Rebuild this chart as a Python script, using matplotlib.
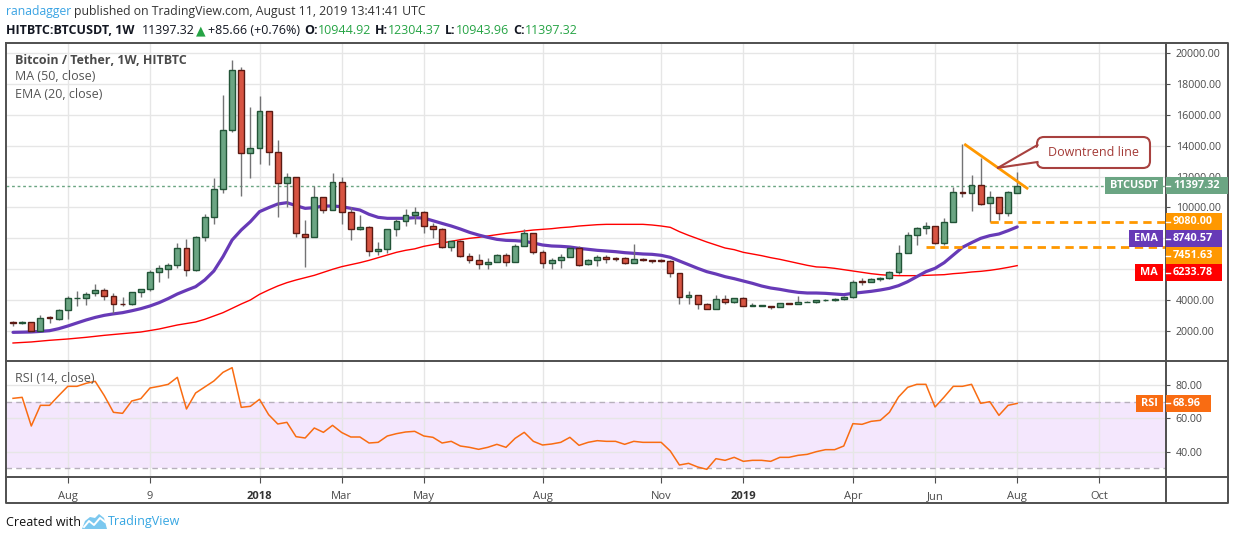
import matplotlib
matplotlib.use('Agg')
import matplotlib.pyplot as plt
from matplotlib.patches import Rectangle, FancyBboxPatch, Polygon
from matplotlib.lines import Line2D
from matplotlib.transforms import Affine2D
import numpy as np

W, H = 1234, 540
FONT = ['Open Sans', 'DejaVu Sans']

# ---------------- data (weekly BTC/USDT, first bar = week of 2017-06-26) ----------------
opens = [2560, 2530, 2560, 2020, 2860, 2760, 3330, 4110, 4130, 4440,
         4630, 4290, 3760, 3720, 4500, 4700, 5800, 6040, 6250, 7390,
         5930, 8110, 9360, 11170, 14990, 18870, 13510, 13830, 16220, 13570,
         11560, 11950, 8260, 8110, 10650, 9810, 11670, 9680, 8580, 8710,
         7160, 7290, 8580, 9120, 9490, 9680, 8780, 8580, 7460, 7800,
         6870, 6570, 6310, 6480, 6890, 6440, 7480, 8320, 7090, 6380,
         6570, 6760, 7350, 6310, 6570, 6760, 6720, 6700, 6380, 6660,
         6590, 6590, 6510, 5730, 4170, 4300, 3720, 3400, 4070, 3860,
         4110, 3620, 3620, 3620, 3530, 3800, 3740, 3860, 3880, 3980,
         4010, 4050, 4180, 5230, 5195, 5346, 5410, 5842, 7030, 8195,
         8648, 8800, 7680, 9040, 11000, 10920, 11430, 10260, 10650, 9620,
         10944.92]
closes = [2530, 2560, 2020, 2820, 2840, 3360, 4120, 4130, 4370, 4630,
          4290, 3730, 3720, 4500, 4700, 5800, 6060, 6250, 7390, 5930,
          8110, 9360, 11170, 14990, 18870, 13510, 13830, 16220, 13570, 11560,
          11950, 8330, 8110, 10650, 9810, 11670, 9680, 8580, 8710, 7160,
          7290, 8580, 9120, 9490, 9680, 8780, 8580, 7460, 7800, 6870,
          6570, 6310, 6480, 6890, 6440, 7480, 8320, 7090, 6380, 6570,
          6760, 7350, 6270, 6570, 6760, 6680, 6660, 6380, 6640, 6570,
          6530, 6510, 5730, 4170, 4300, 3720, 3400, 4070, 3860, 4110,
          3620, 3650, 3650, 3530, 3790, 3760, 3880, 3900, 3990, 4010,
          4050, 4220, 5190, 5190, 5346, 5454, 5842, 7030, 8195, 8648,
          8800, 7680, 9040, 10980, 10920, 11430, 10220, 10650, 9620, 10980,
          11397.32]
highs = [2650, 2680, 2580, 3010, 2970, 3450, 4270, 4600, 4550, 5020,
         4760, 4440, 4180, 4510, 4700, 5950, 6270, 6420, 7670, 7930,
         8130, 9580, 11930, 17280, 19550, 19070, 16480, 17220, 16260, 14360,
         12210, 11950, 9190, 11390, 10690, 12210, 11950, 10050, 9510, 8800,
         7770, 8580, 9230, 9880, 10050, 9770, 8970, 8650, 7800, 7890,
         7050, 6980, 6700, 6960, 7030, 7630, 8580, 8320, 7240, 6700,
         6980, 7460, 7480, 6640, 6900, 6920, 6810, 6770, 7610, 6720,
         6590, 6640, 6590, 5730, 4580, 4300, 3810, 4300, 4300, 4110,
         4220, 3790, 3690, 3620, 3790, 3830, 4280, 3940, 4030, 4100,
         4110, 4290, 5290, 5460, 5460, 5500, 5910, 7540, 8380, 8750,
         9070, 8800, 9300, 11300, 14110, 12090, 13220, 11090, 10690, 11090,
         12304.37]
lows = [2320, 2450, 1940, 2010, 2540, 2710, 2760, 3650, 3690, 4270,
        4010, 3140, 3650, 3690, 4220, 4610, 5190, 5450, 6060, 5590,
        5900, 7850, 8910, 10910, 14900, 10770, 11930, 12810, 12750, 9400,
        10050, 8110, 6170, 8110, 9620, 9810, 8910, 7870, 8540, 6880,
        6920, 7030, 8150, 8820, 8930, 8370, 8040, 7390, 7200, 6810,
        6380, 6030, 6030, 6480, 6230, 6440, 7480, 6980, 6100, 6030,
        6100, 6760, 6210, 6270, 6230, 6420, 6530, 6310, 6380, 6530,
        6380, 6490, 5510, 3780, 3780, 3440, 3400, 3400, 3720, 3790,
        3620, 3600, 3590, 3440, 3530, 3740, 3740, 3860, 3790, 3920,
        3960, 3980, 4150, 4980, 5150, 5250, 5360, 5690, 7030, 7560,
        8300, 7640, 7570, 9040, 10660, 9740, 10180, 9080, 9190, 9460,
        10943.96]
ema20 = [1914, 1925, 1938, 1975, 2022, 2150, 2324, 2520, 2713, 2880,
         3015, 3110, 3188, 3310, 3447, 3620, 3835, 4100, 4397, 4640,
         4871, 5303, 5886, 6814, 7893, 8541, 9080, 9728, 9987, 10224,
         10310, 10116, 9943, 9987, 10094, 10094, 10051, 9943, 9835, 9555,
         9360, 9296, 9296, 9296, 9339, 9312, 9140, 8967, 8800, 8605,
         8389, 8216, 8065, 7936, 7871, 7850, 7807, 7699, 7570, 7505,
         7483, 7440, 7354, 7289, 7224, 7181, 7138, 7073, 7030, 6987,
         6965, 6900, 6771, 6533, 6296, 6058, 5842, 5691, 5518, 5389,
         5238, 5087, 4914, 4784, 4698, 4590, 4504, 4461, 4460, 4439,
         4396, 4353, 4439, 4504, 4569, 4655, 4763, 4936, 5195, 5519,
         5843, 6058, 6425, 6922, 7418, 7720, 8001, 8174, 8282, 8497,
         8740.57]
ma50 = [1224, 1258, 1291, 1345, 1398, 1440, 1483, 1537, 1591, 1655,
        1720, 1774, 1828, 1882, 1936, 2030, 2130, 2260, 2389, 2486,
        2583, 2756, 2972, 3188, 3468, 3749, 4008, 4375, 4656, 4915,
        5130, 5303, 5454, 5605, 5799, 5994, 6166, 6296, 6425, 6576,
        6749, 6922, 7094, 7224, 7320, 7483, 7591, 7699, 7807, 7915,
        8001, 8065, 8152, 8238, 8324, 8389, 8475, 8540, 8583, 8626,
        8691, 8734, 8799, 8842, 8885, 8907, 8907, 8907, 8907, 8907,
        8864, 8799, 8713, 8432, 8195, 7979, 7763, 7569, 7375, 7267,
        7094, 6987, 6879, 6749, 6641, 6512, 6382, 6253, 6150, 6123,
        6058, 5972, 5886, 5799, 5713, 5648, 5605, 5584, 5584, 5584,
        5605, 5627, 5648, 5713, 5756, 5821, 5864, 5929, 6015, 6120,
        6233.78]
rsi14 = [72.0, 72.6, 55.4, 67.8, 67.8, 73.6, 79.2, 79.2, 81.0, 82.2,
         73.6, 63.6, 63.0, 70.4, 71.8, 78.2, 79.2, 80.4, 84.6, 65.6,
         75.2, 78.8, 82.4, 87.6, 90.4, 66.6, 67.2, 71.4, 62.2, 56.6,
         57.6, 49.0, 48.2, 54.2, 51.6, 55.8, 51.5, 48.8, 48.8, 45.2,
         45.6, 49.4, 50.8, 51.8, 52.2, 49.4, 48.6, 45.2, 46.2, 43.4,
         42.6, 41.4, 42.6, 44.4, 42.6, 48.0, 51.6, 46.2, 44.0, 44.6,
         45.6, 48.6, 43.8, 45.6, 46.6, 46.2, 46.2, 44.4, 46.2, 45.6,
         45.6, 45.6, 40.4, 32.0, 33.0, 30.8, 29.4, 35.8, 34.8, 36.6,
         34.2, 34.8, 34.8, 34.2, 36.6, 36.6, 37.8, 38.4, 40.0, 41.2,
         41.2, 43.4, 56.8, 56.4, 58.2, 58.8, 63.6, 72.8, 78.6, 80.4,
         80.4, 66.8, 72.8, 79.2, 79.2, 80.4, 69.0, 70.0, 61.8, 67.8,
         68.96]

tick_pos = [6, 15, 27, 36, 45, 58, 71, 80, 92, 101, 110, 119]
tick_labels = ['Aug', '9', '2018', 'Mar', 'May', 'Aug', 'Nov', '2019', 'Apr', 'Jun', 'Aug', 'Oct']
price_ticks = [2000, 4000, 6000, 8000, 10000, 12000, 14000, 16000, 18000, 20000]
rsi_ticks = [40, 60, 80]
support_levels = [9080.00, 7451.63]
support_start = [107, 100]
trend_x = [104.2, 111.2]
trend_y = [14110, 11195]
change, change_pct = 85.66, 0.76

# ---------------- colours ----------------
UP, UP_EDGE = '#6ba583', '#225437'
DN, DN_EDGE = '#d75442', '#5b1a13'
WICK = '#737375'
EMA_C, MA_C = '#673ab7', '#ff0000'
ORANGE = '#ff9800'
RSI_C = '#f96c12'
GRID = '#e6e6e6'
FRAME = '#4f4f4f'
TXT = '#4a4a4a'
GREEN_TXT = '#26a445'

fig = plt.figure(figsize=(W / 100, H / 100), dpi=100)
fig.patch.set_facecolor('white')
pix = Affine2D().scale(1, -1).translate(0, H)  # top-left pixel coordinates
renderer = fig.canvas.get_renderer()


def text_px(x, y, s, **kw):
    kw.setdefault('family', FONT)
    return fig.text(x, y, s, transform=pix, **kw)


def run_text(x, y, pieces, size):
    for s, color, weight, gap in pieces:
        t = text_px(x, y, s, color=color, fontweight=weight, fontsize=size, va='center')
        x += t.get_window_extent(renderer).width + gap


def line_px(xs, ys, **kw):
    fig.add_artist(Line2D(xs, ys, transform=pix, **kw))


x = np.arange(len(opens))
o = np.array(opens); c = np.array(closes)
hi = np.array(highs); lo = np.array(lows)
up = c >= o

XL = (-0.77, 126.3)

# ---------------- price pane ----------------
ax = fig.add_axes([6 / W, 1 - 361 / H, 1160 / W, 318 / H])
ax.set_xlim(*XL)
ax.set_ylim(58, 20649)
ax.set_xticks(tick_pos)
ax.set_yticks(price_ticks)
ax.grid(True, color=GRID, lw=1)
ax.set_axisbelow(True)
ax.tick_params(axis='x', length=0, labelbottom=False)
ax.yaxis.tick_right()
ax.tick_params(axis='y', length=3, color=FRAME, labelsize=7.7, labelcolor=TXT, pad=4)
ax.set_yticklabels([f'{v:.2f}' for v in price_ticks], family=FONT)
for s in ax.spines.values():
    s.set_visible(False)

ax.plot(x, ma50, color=MA_C, lw=1.0, zorder=2)
ax.plot(x, ema20, color=EMA_C, lw=2.3, zorder=2, solid_capstyle='round')
ax.vlines(x, lo, hi, color=WICK, lw=1, zorder=3)
body_lo = np.minimum(o, c)
body_h = np.maximum(np.abs(c - o), 45)
ax.bar(x[up], body_h[up], bottom=body_lo[up], width=0.64, color=UP, edgecolor=UP_EDGE, lw=1, zorder=4)
ax.bar(x[~up], body_h[~up], bottom=body_lo[~up], width=0.64, color=DN, edgecolor=DN_EDGE, lw=1, zorder=4)

ax.plot(XL, [closes[-1]] * 2, color=UP, lw=1, ls=(0, (2, 2)), zorder=1.5)
for lvl, st in zip(support_levels, support_start):
    ax.plot([st, XL[1]], [lvl, lvl], color=ORANGE, lw=2, ls=(0, (3, 2)), zorder=5)
ax.plot(trend_x, trend_y, color=ORANGE, lw=2, zorder=6, solid_capstyle='butt')

# ---------------- RSI pane ----------------
ax2 = fig.add_axes([6 / W, 1 - 477 / H, 1160 / W, 116 / H])
ax2.set_xlim(*XL)
ax2.set_ylim(24.8, 94.4)
ax2.axhspan(30, 70, color='#f4e7fd', zorder=0, lw=0)
ax2.set_xticks(tick_pos)
ax2.set_xticklabels(tick_labels, family=FONT)
ax2.set_yticks(rsi_ticks)
ax2.set_yticklabels([f'{v:.2f}' for v in rsi_ticks], family=FONT)
ax2.grid(True, color=GRID, lw=1)
ax2.set_axisbelow(True)
ax2.yaxis.tick_right()
ax2.tick_params(axis='y', length=3, color=FRAME, labelsize=7.7, labelcolor=TXT, pad=4)
ax2.tick_params(axis='x', length=4, color=FRAME, labelsize=8, labelcolor=TXT, pad=6)
for t in ax2.get_xticklabels():
    if t.get_text() in ('2018', '2019'):
        t.set_fontweight('bold')
        t.set_color('#333333')
for s in ax2.spines.values():
    s.set_visible(False)
for lvl in (70, 30):
    ax2.axhline(lvl, color='#b7b0bc', lw=1, ls=(0, (4, 3)), zorder=1)
ax2.plot(x, rsi14, color=RSI_C, lw=1.1, zorder=3)

# ---------------- frame ----------------
fr = dict(color=FRAME, lw=1.4, solid_capstyle='projecting')
line_px([6, 1228, 1228, 6, 6], [43, 43, 503, 503, 43], **fr)
line_px([1166, 1166], [43, 503], **fr)
line_px([6, 1228], [361, 361], **fr)
line_px([6, 1228], [477, 477], **fr)


# ---------------- price-scale labels ----------------
def ypx(a, v):
    return H - a.transData.transform((0, v))[1]


def scale_label(yc, value_txt, color, name=None, vw=56):
    fig.add_artist(Rectangle((1166, yc - 8.5), vw, 17, transform=pix, fc=color, ec='none', zorder=10))
    line_px([1166, 1170], [yc, yc], color='white', lw=1, zorder=11)
    text_px(1173, yc, value_txt, color='white', fontweight='bold', fontsize=7.8, va='center', zorder=12)
    if name:
        t = text_px(1158, yc, name, color='white', fontweight='bold', fontsize=7.8,
                    va='center', ha='right', zorder=12)
        tw = t.get_window_extent(renderer).width
        fig.add_artist(Rectangle((1163 - tw - 10, yc - 8.5), tw + 10, 17, transform=pix,
                                 fc=color, ec='none', zorder=10))


box_centres = []
scale_label(ypx(ax, closes[-1]), f'{closes[-1]:.2f}', UP, 'BTCUSDT', vw=62)
stack = sorted([(support_levels[0], ORANGE, None), (ema20[-1], EMA_C, 'EMA'),
                (support_levels[1], ORANGE, None), (ma50[-1], MA_C, 'MA')],
               key=lambda r: -r[0])
prev = -1e9
for val, col, nm in stack:
    yc = max(ypx(ax, val), prev + 17)
    prev = yc
    box_centres.append(yc)
    scale_label(yc, f'{val:.2f}', col, nm)
scale_label(ypx(ax2, rsi14[-1]), f'{rsi14[-1]:.2f}', RSI_C, 'RSI', vw=45)

# tick labels that sit fully under a coloured scale box are hidden, as on the reference
for v, lab in zip(price_ticks, ax.get_yticklabels()):
    if any(abs(ypx(ax, v) - yc) < 8.5 for yc in box_centres):
        lab.set_visible(False)

# ---------------- callout ----------------
CALLOUT = '#a8413f'
fig.add_artist(FancyBboxPatch((1037, 137), 113, 31, boxstyle='round,pad=0,rounding_size=7',
                              transform=pix, fc='white', ec=CALLOUT, lw=1.5, zorder=7))
tip_i = 107.9
tx, ty = ax.transData.transform((tip_i, np.interp(tip_i, trend_x, trend_y)))
ty = H - ty
fig.add_artist(Polygon([(1041, 145.5), (tx, ty), (1041, 161.5)], closed=True, transform=pix,
                       fc='white', ec='none', zorder=8))
line_px([1037.5, tx], [145, ty], color=CALLOUT, lw=1.5, zorder=9)
line_px([1037.5, tx], [162, ty], color=CALLOUT, lw=1.5, zorder=9)
text_px(1093, 152, 'Downtrend line', color='#a33a36', fontsize=9, ha='center', va='center', zorder=10)

# ---------------- legends / header ----------------
text_px(15, 60, 'Bitcoin / Tether, 1W, HITBTC', color=TXT, fontsize=9, fontweight='bold', va='center')
text_px(15, 77, 'MA (50, close)', color='#555555', fontsize=9, va='center')
text_px(15, 94, 'EMA (20, close)', color='#555555', fontsize=9, va='center')
text_px(15, 378, 'RSI (14, close)', color='#555555', fontsize=9, va='center')

run_text(6, 12, [('ranadagger', '#3aa3e3', 'normal', 3),
                 ('published on TradingView.com, August 11, 2019 13:41:41 UTC', '#333333', 'normal', 0)], 8.8)
run_text(6, 31, [('HITBTC:BTCUSDT, 1W', '#131722', 'bold', 7),
                 (f'{closes[-1]:.2f}', '#131722', 'normal', 2),
                 ('\u25b2', GREEN_TXT, 'normal', 2),
                 (f'+{change:.2f} (+{change_pct:.2f}%)', '#131722', 'normal', 4),
                 ('O:', '#131722', 'bold', 0), (f'{opens[-1]:.2f}', GREEN_TXT, 'normal', 4),
                 ('H:', '#131722', 'bold', 0), (f'{highs[-1]:.2f}', GREEN_TXT, 'normal', 4),
                 ('L:', '#131722', 'bold', 0), (f'{lows[-1]:.2f}', GREEN_TXT, 'normal', 4),
                 ('C:', '#131722', 'bold', 0), (f'{closes[-1]:.2f}', GREEN_TXT, 'normal', 0)], 9)

# ---------------- footer ----------------
text_px(6, 522, 'Created with', color='#111111', fontsize=9, va='center')
fig.add_artist(Polygon([(82, 529), (85, 521), (90, 517), (95, 518), (99, 514), (104, 518), (107, 529)],
                       closed=True, transform=pix, fc='#7cc8ef', ec='none'))
line_px([84, 89, 94, 100, 105], [527, 521, 525, 518, 522], color='white', lw=1.4)
text_px(108, 522, 'TradingView', color='#36a6e2', fontsize=9, va='center')

fig.savefig('out.png', dpi=100)
